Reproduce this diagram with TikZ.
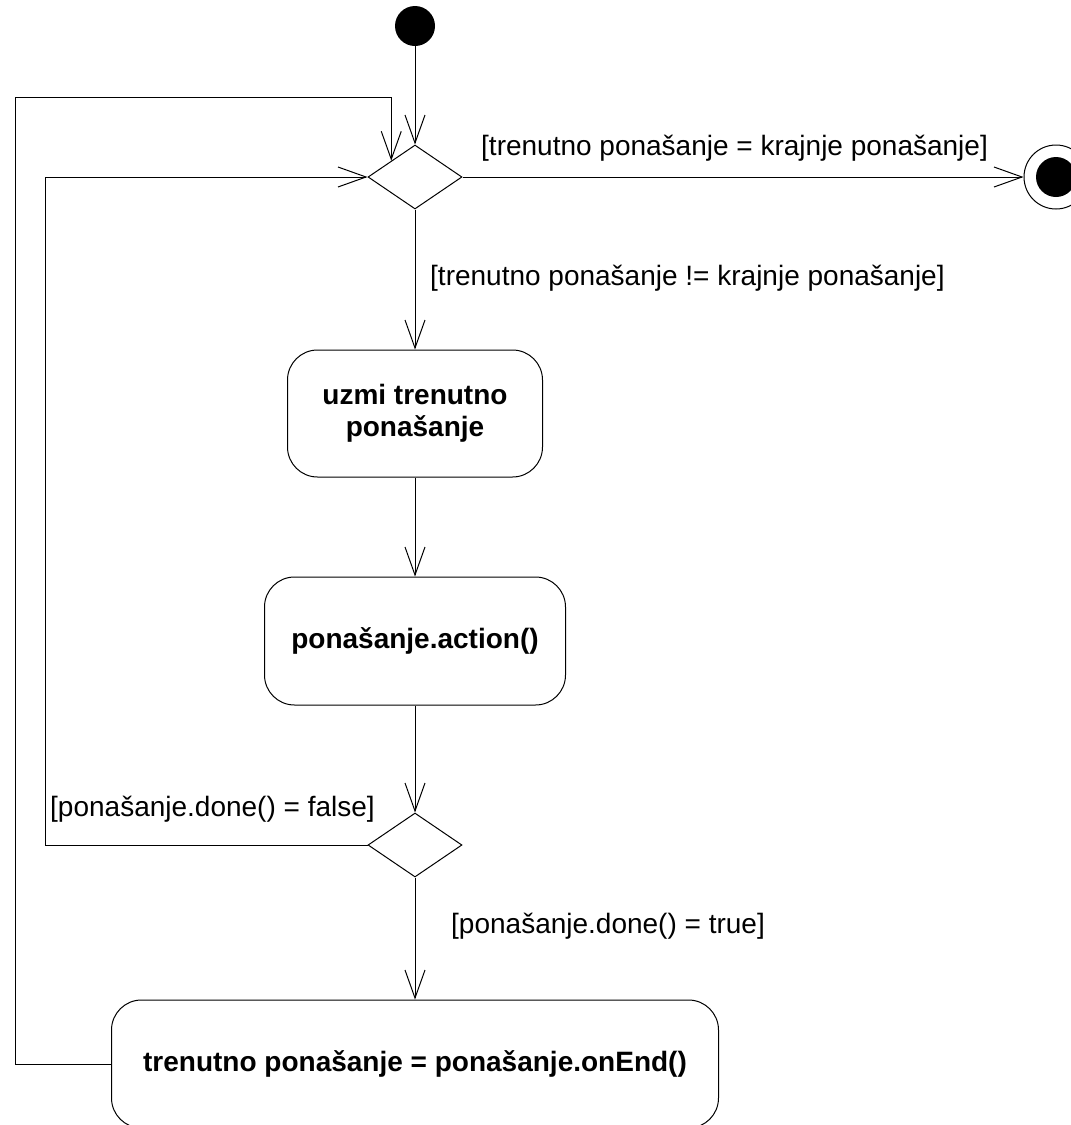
\documentclass[tikz,border=0pt]{standalone}
\usepackage{fontspec}
\setmainfont{Liberation Sans}
\usetikzlibrary{arrows.meta,shapes.geometric}
\begin{document}
\begin{tikzpicture}[x=1pt,y=-1pt,
  flow/.style={draw, line width=1pt, -{Straight Barb[length=28pt,width=20pt,line width=1pt]}},
  activity/.style={draw, line width=1pt, rounded corners=30pt,
    font=\fontsize{28}{32}\selectfont\bfseries, align=center, inner sep=0pt},
  decision/.style={draw, diamond, line width=1pt, minimum width=94pt,
    minimum height=64pt, inner sep=0pt},
  guard/.style={font=\fontsize{28}{32}\selectfont, inner sep=0pt, anchor=base west},
  startdot/.style={circle, fill=black, minimum size=40pt, inner sep=0pt},
  endring/.style={circle, draw, line width=1pt, minimum size=64pt, inner sep=0pt},
]
\useasboundingbox (0,0) rectangle (1071,1125);

% nodes
\node[startdot] (init) at (415,26) {};
\node[decision] (dec1) at (415,177) {};
\node[endring] (final) at (1056,177) {};
\node[startdot] (finaldot) at (1056,177) {};
\node[activity, minimum width=255pt, minimum height=127pt] (act1) at (415,413.5)
  {uzmi trenutno\\ponašanje};
\node[activity, minimum width=301pt, minimum height=128pt] (act2) at (415,641)
  {ponašanje.action()};
\node[decision] (dec2) at (415,845) {};
\node[activity, minimum width=607pt, minimum height=128pt] (act3) at (415,1064)
  {trenutno ponašanje = ponašanje.onEnd()};

% loop helper corners
\coordinate (outerTop) at (15,97);
\coordinate (innerLeft) at (45,177);

% connectors
\draw[flow] (init) -- (dec1.north);
\draw[flow] (dec1.east) -- (final.west);
\draw[flow] (dec1.south) -- (act1.north);
\draw[flow] (act1.south) -- (act2.north);
\draw[flow] (act2.south) -- (dec2.north);
\draw[flow] (dec2.south) -- (act3.north);
\draw[flow] (dec2.west) -| (innerLeft) -- (dec1.west);
\draw[flow] (act3.west) -| (outerTop) -| (dec1.north west);

% guards
\node[guard] (g1) at (481,155) {[trenutno ponašanje = krajnje ponašanje]};
\node[guard] (g2) at (430,285) {[trenutno ponašanje != krajnje ponašanje]};
\node[guard] (g3) at (50,816) {[ponašanje.done() = false]};
\node[guard] (g4) at (451,933) {[ponašanje.done() = true]};
\end{tikzpicture}
\end{document}
